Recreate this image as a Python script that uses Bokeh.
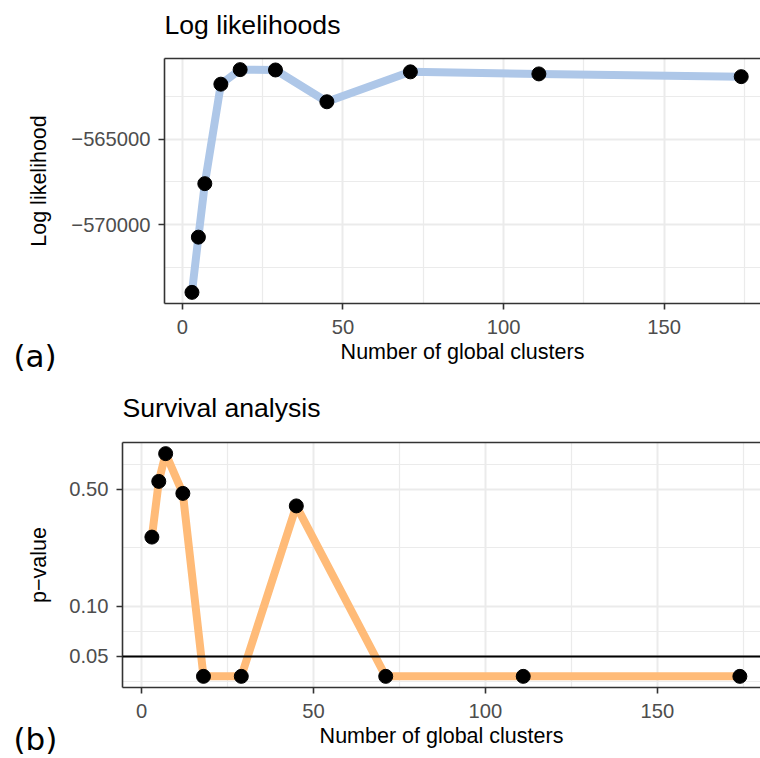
from bokeh.plotting import figure
from bokeh.models import (Range1d, FixedTicker, CustomJSTickFormatter, Span, Title,
                          LinearAxis, ColumnDataSource)
from bokeh.embed import file_html
from bokeh.resources import INLINE
import math

# ---- data ----
clusters = [3, 5, 7, 12, 18, 29, 45, 71, 111, 174]
log_likelihood = [-573970, -570740, -567610, -561790, -560940, -560960, -562820, -561070, -561190, -561350]
p_values = [0.259, 0.558, 0.818, 0.473, 0.038, 0.038, 0.398, 0.038, 0.038, 0.038]

x_ticks = [0, 50, 100, 150]
x_minor = [25, 75, 125, 175]
ll_ticks = [-570000, -565000]
ll_minor = [-572500, -567500, -562500]
p_ticks = [0.05, 0.10, 0.50]
p_minor = [0.0354, 0.0707, 0.2236, 0.7071]
alpha_level = 0.05
x_view_end = 180  # reference is cropped at the right edge

FONT = "Liberation Sans"
BORDER = "#333333"
GRID = "#EBEBEB"
W = 760
FRAME_H = 245


def expand(lo, hi, f=0.05):
    d = hi - lo
    return lo - f * d, hi + f * d


def style(p, ylabel_standoff):
    p.background_fill_color = "white"
    p.border_fill_color = "white"
    p.outline_line_color = None
    p.title.text_font = FONT
    p.title.text_font_size = "26.6px"
    p.title.text_font_style = "normal"
    p.title.text_color = "black"
    p.title.align = "left"
    p.title.standoff = 6
    for ax in p.axis:
        ax.axis_line_color = BORDER
        ax.axis_line_width = 1.6
        ax.major_tick_line_color = BORDER
        ax.major_tick_line_width = 1.6
        ax.major_tick_out = 6
        ax.major_tick_in = 0
        ax.minor_tick_line_color = None
        ax.major_label_text_font = FONT
        ax.major_label_text_font_size = "20.2px"
        ax.major_label_text_color = "#4D4D4D"
        ax.axis_label_text_font = FONT
        ax.axis_label_text_font_size = "21.5px"
        ax.axis_label_text_font_style = "normal"
        ax.axis_label_text_color = "black"
    p.xaxis.major_label_standoff = 10
    p.xaxis.axis_label_standoff = 3
    p.yaxis.major_label_standoff = 8
    p.yaxis.axis_label_standoff = ylabel_standoff
    for g in p.grid:
        g.grid_line_color = GRID
        g.grid_line_width = 2
        g.minor_grid_line_color = GRID
        g.minor_grid_line_width = 1.2


def finish(p, tag, frame_left, tag_standoff, title_gap):
    # top border of the panel (an empty axis)
    top = LinearAxis(ticker=FixedTicker(ticks=[]), axis_label=None,
                     axis_line_color=BORDER, axis_line_width=1.6,
                     major_tick_out=0, major_tick_in=0, major_tick_line_color=None,
                     minor_tick_line_color=None, major_label_standoff=0)
    p.add_layout(top, "above")
    # blank spacer between the frame and the title
    p.add_layout(Title(text="\u00a0", standoff=title_gap, text_font=FONT,
                       text_font_size="1px", text_color="white"), "above")
    # panel tag "(a)" / "(b)" at the far left, level with the x-axis title
    p.add_layout(Title(text=tag, align="left", vertical_align="top", offset=13 - frame_left,
                       standoff=tag_standoff, text_font="DejaVu Sans", text_font_size="31px",
                       text_font_style="normal", text_color="black"), "below")


src = ColumnDataSource(dict(x=clusters, ll=log_likelihood, p=p_values))
x0, _ = expand(min(clusters), max(clusters))

# ---- panel (a) ----
L1 = 164
ll0, ll1 = expand(min(log_likelihood), max(log_likelihood))
p1 = figure(width=W, height=380, output_backend="svg", toolbar_location=None,
            x_range=Range1d(x0, x_view_end), y_range=Range1d(ll0, ll1),
            min_border_left=L1, min_border_right=0, min_border_top=58, min_border_bottom=380 - 58 - FRAME_H,
            title="Log likelihoods")
style(p1, 17)
p1.xaxis.ticker = FixedTicker(ticks=x_ticks, minor_ticks=x_minor)
p1.yaxis.ticker = FixedTicker(ticks=ll_ticks, minor_ticks=ll_minor)
p1.yaxis.formatter = CustomJSTickFormatter(code="return (tick < 0 ? '\u2212' : '') + Math.abs(tick).toFixed(0);")
p1.xaxis.axis_label = "Number of global clusters"
p1.yaxis.axis_label = "Log likelihood"
p1.line("x", "ll", source=src, line_color="#AEC7E8", line_width=8, line_join="round")
p1.scatter("x", "ll", source=src, size=14, fill_color="black", line_color="black")
finish(p1, "(a)", L1, -58, 13)

# ---- panel (b) ----
L2 = 122
lp0, lp1 = expand(math.log10(min(p_values)), math.log10(max(p_values)))
p2 = figure(width=W, height=378, output_backend="svg", toolbar_location=None,
            x_range=Range1d(x0, x_view_end), y_range=Range1d(10 ** lp0, 10 ** lp1),
            y_axis_type="log",
            min_border_left=L2, min_border_right=0, min_border_top=62, min_border_bottom=378 - 62 - FRAME_H,
            title="Survival analysis")
style(p2, 15)
p2.xaxis.ticker = FixedTicker(ticks=x_ticks, minor_ticks=x_minor)
p2.yaxis.ticker = FixedTicker(ticks=p_ticks, minor_ticks=p_minor)
p2.yaxis.formatter = CustomJSTickFormatter(code="return tick.toFixed(2);")
p2.xaxis.axis_label = "Number of global clusters"
p2.yaxis.axis_label = "p\u2212value"
p2.line("x", "p", source=src, line_color="#FFBB78", line_width=8, line_join="round")
p2.add_layout(Span(location=alpha_level, dimension="width", line_color="black", line_width=2))
p2.scatter("x", "p", source=src, size=14, fill_color="black", line_color="black")
finish(p2, "(b)", L2, -59, 14)

open("out.html", "w").write(file_html([p1, p2], INLINE))
